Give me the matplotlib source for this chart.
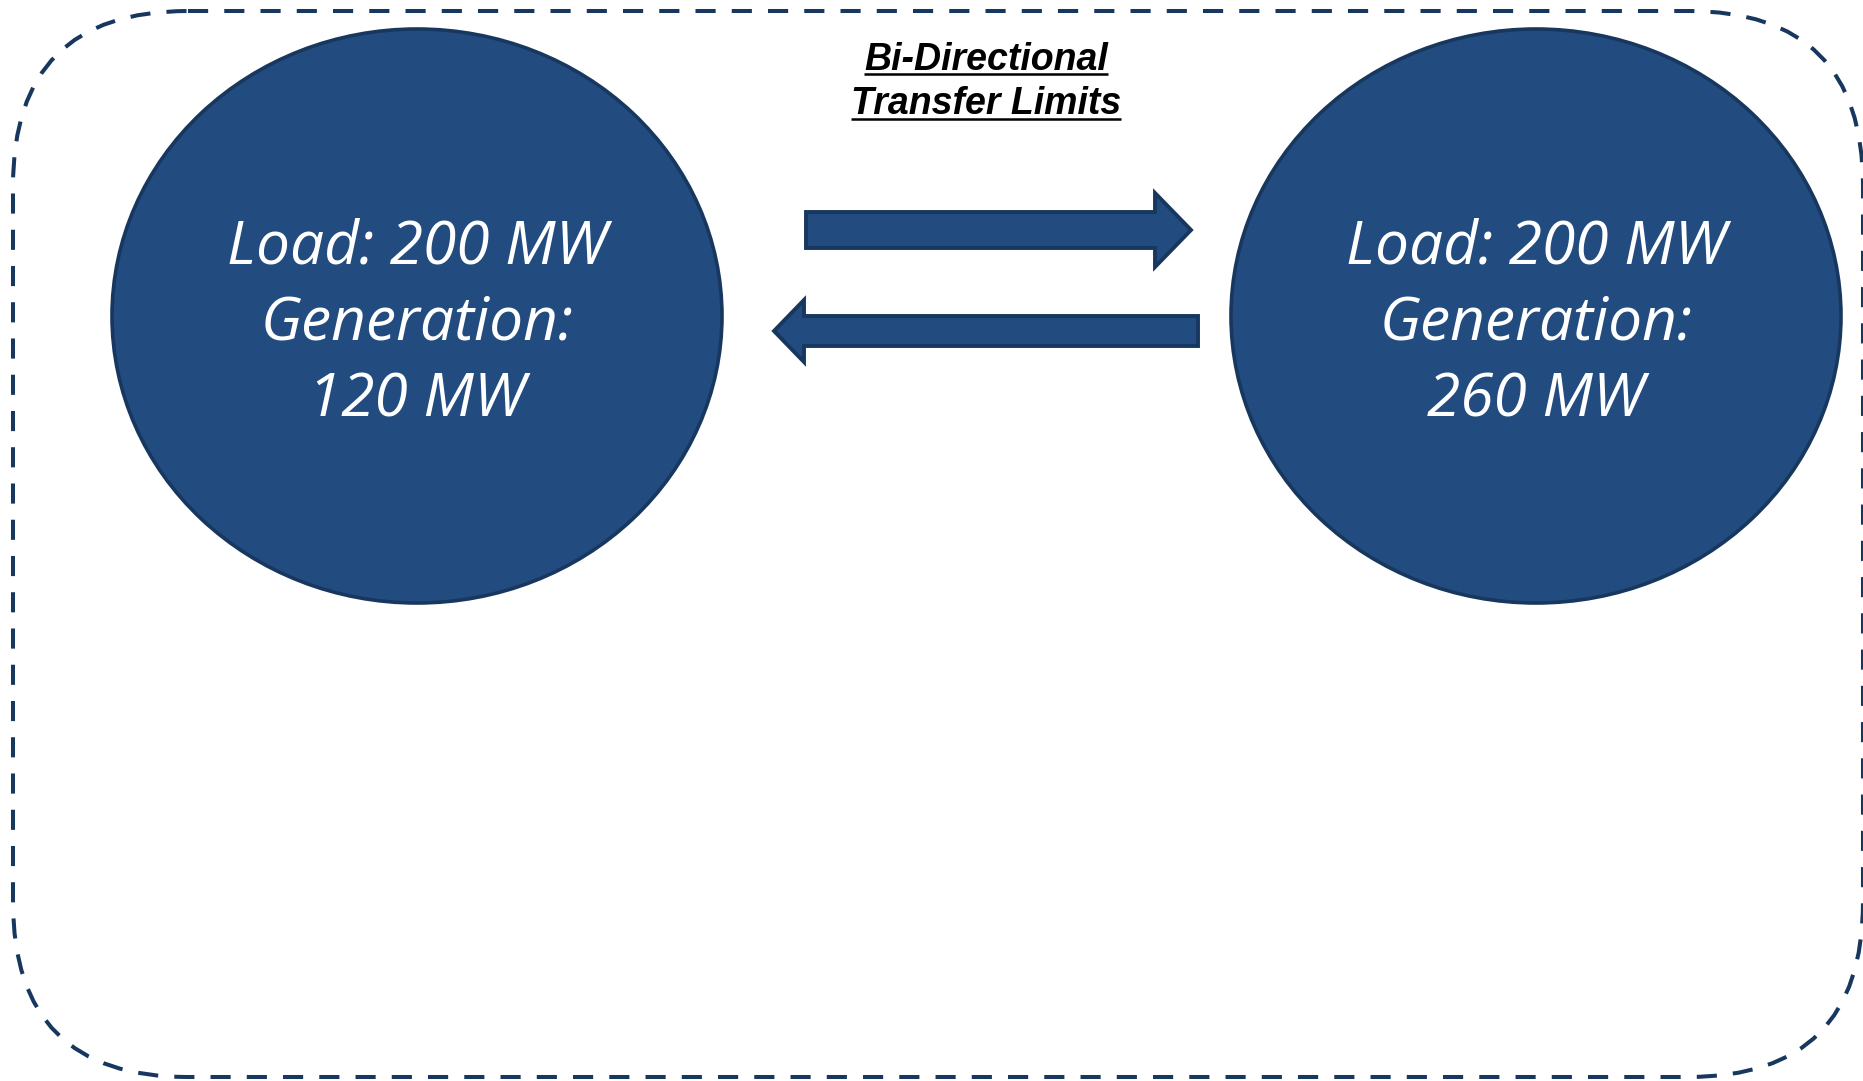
import matplotlib.pyplot as plt
from matplotlib.patches import Ellipse, Polygon, FancyBboxPatch

# Diagram content
title_lines = ["Bi-Directional", "Transfer Limits"]
area_loads = [200, 200]          # MW
area_generation = [120, 260]     # MW

fill_col = "#224C7F"
edge_col = "#17375E"

W, H = 1863, 1081
fig = plt.figure(figsize=(W / 100, H / 100), dpi=100)
ax = fig.add_axes([0, 0, 1, 1])
ax.set_xlim(0, W)
ax.set_ylim(H, 0)
ax.axis("off")

# dashed rounded boundary
box = FancyBboxPatch((13, 11), 1850, 1066, boxstyle="round,pad=0,rounding_size=175",
                     fill=False, ec=edge_col, lw=2.9, ls=(0, (5, 4)))
ax.add_patch(box)

# two areas
centers_x = [417, 1536]
for cx, load, gen in zip(centers_x, area_loads, area_generation):
    ax.add_patch(Ellipse((cx, 316), 610, 574, fc=fill_col, ec=edge_col, lw=2.6))
    txt = f"Load: {load} MW\nGeneration:\n{gen} MW"
    ax.text(cx, 324, txt, ha="center", va="center", color="white", style="italic",
            family="Open Sans", fontsize=43.5, linespacing=1.36)

# arrows
right_arrow = [(806, 212), (1155, 212), (1155, 193), (1191, 230), (1155, 267),
               (1155, 248), (806, 248)]
left_arrow = [(1198, 316), (804, 316), (804, 300), (774, 331), (804, 362),
              (804, 346), (1198, 346)]
for pts in (right_arrow, left_arrow):
    ax.add_patch(Polygon(pts, closed=True, fc=fill_col, ec=edge_col, lw=2.8, joinstyle="miter"))

# title with underline
ys = [60, 104]
underline_y = [74, 119]
for line, y, uy in zip(title_lines, ys, underline_y):
    t = ax.text(986, y, line, ha="center", va="center", fontsize=27, fontweight="bold",
                style="italic", family="Liberation Sans", color="black")
    fig.canvas.draw()
    bb = t.get_window_extent().transformed(ax.transData.inverted())
    ax.plot([bb.x0, bb.x1], [uy, uy], color="black", lw=1.8, solid_capstyle="butt")

fig.savefig("out.png", dpi=100)
